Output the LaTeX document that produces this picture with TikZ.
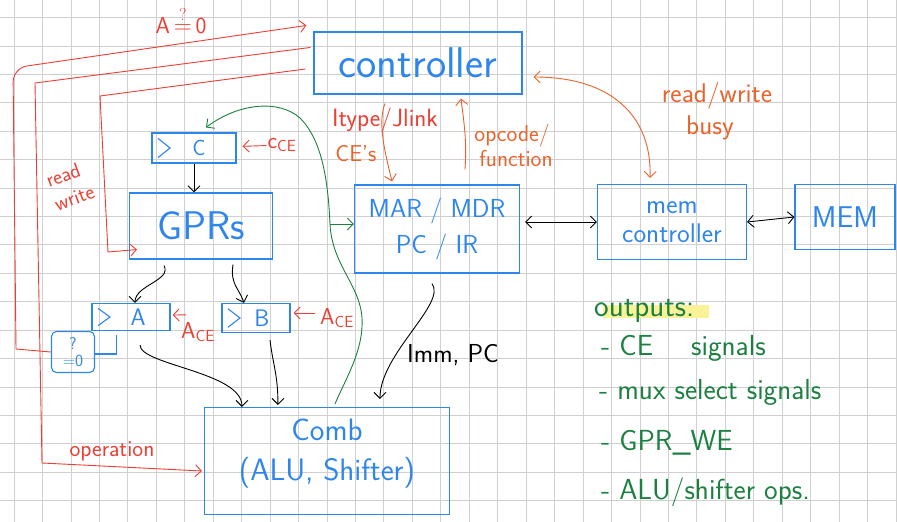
\documentclass[tikz,border=0pt]{standalone}
\usepackage{amsmath, amssymb}
\usepackage{tikz}
\usetikzlibrary{calc, arrows.meta}

\definecolor{penblue}{RGB}{46,134,236}
\definecolor{penred}{RGB}{236,62,50}
\definecolor{penorange}{RGB}{234,98,44}
\definecolor{pengreen}{RGB}{28,128,64}
\definecolor{gridgray}{RGB}{208,208,208}
\definecolor{hilite}{RGB}{250,242,150}

\newcommand{\sk}[2]{\fontsize{#1}{#2}\selectfont}

\begin{document}
\begin{tikzpicture}[x=1pt,y=1pt,yscale=-1, >={Straight Barb[length=6pt,width=12pt]},
  box/.style={draw=penblue, text=penblue, line width=1.1pt, inner sep=0pt, align=center, font=\sffamily},
  reg/.style={box, path picture={\draw[penblue, line width=1.1pt]
      ($(path picture bounding box.north west)!.18!(path picture bounding box.south west)+(6,0)$)
      -- ($(path picture bounding box.west)+(18,0)$)
      -- ($(path picture bounding box.south west)!.18!(path picture bounding box.north west)+(6,0)$);}},
  wire/.style={->, line width=0.9pt},
  redwire/.style={wire, draw=penred},
  orangewire/.style={wire, draw=penorange},
  greenwire/.style={wire, draw=pengreen},
  redtext/.style={text=penred, font=\sffamily\sk{23}{25}, inner sep=1pt},
  orangetext/.style={text=penorange, font=\sffamily\sk{23}{25}, inner sep=1pt},
  greentext/.style={text=pengreen, font=\sffamily\sk{29}{32}, inner sep=1pt, anchor=west}
]
\useasboundingbox (0,0) rectangle (897,522);
\fill[white] (0,0) rectangle (897,522);

%Grid paper
\foreach \i in {0,...,31} \draw[gridgray, line width=0.8pt] ({14+28.45*\i},0) -- ({14+28.45*\i},522);
\foreach \j in {0,...,17} \draw[gridgray, line width=0.8pt] (0,{17.5+28.42*\j}) -- (897,{17.5+28.42*\j});

%Shape: Rectangle [controller]
\node[box, minimum width=208pt, minimum height=62pt, font=\sffamily\sk{43}{46}] (ctrl) at (418,63) {controller};
%Shape: Rectangle [C register]
\node[reg, minimum width=84pt, minimum height=30pt, font=\sffamily\sk{22}{24}] (regC) at (194,148) {\hspace*{10pt}C};
%Shape: Rectangle [register file]
\node[box, minimum width=143pt, minimum height=66pt, font=\sffamily\sk{40}{42}] (gprs) at (201,226) {GPRs};
%Shape: Rectangle [A and B registers]
\node[reg, minimum width=78pt, minimum height=27pt, font=\sffamily\sk{24}{26}] (regA) at (131,317) {\hspace*{14pt}A};
\node[reg, minimum width=68pt, minimum height=29pt, font=\sffamily\sk{24}{26}] (regB) at (256,318) {\hspace*{12pt}B};
%Shape: Rectangle [zero test]
\node[box, rounded corners=5pt, minimum width=43pt, minimum height=41pt, font=\sffamily\sk{17}{17}] (zero) at (73,352) {?\\=0};
%Shape: Rectangle [MAR/MDR, PC/IR]
\node[box, minimum width=165pt, minimum height=88pt, font=\sffamily\sk{26}{36}] (marmdr) at (437,229) {MAR / MDR\\PC / IR};
%Shape: Rectangle [memory controller]
\node[box, minimum width=149pt, minimum height=75pt, font=\sffamily\sk{27}{29}] (memctrl) at (672,222) {mem\\controller};
%Shape: Rectangle [memory]
\node[box, minimum width=100pt, minimum height=65pt, font=\sffamily\sk{30}{32}] (mem) at (845,217) {MEM};
%Shape: Rectangle [combinational part]
\node[box, minimum width=245pt, minimum height=107pt, font=\sffamily\sk{31}{40}] (comb) at (327,461) {Comb\\(ALU, Shifter)\\[-18pt]\mbox{}};

%Straight Lines [C into GPRs]
\draw[wire] (regC.south) -- (regC.south |- gprs.north);
%Curve Lines [GPRs into A and B]
\draw[wire] ($(gprs.south)+(-37,6)$) .. controls +(8,15) and +(0,-18) .. ($(regA.north)+(4,0)$);
\draw[wire] ($(gprs.south)+(32,5)$) .. controls +(-3,20) and +(-5,-15) .. ($(regB.north)+(-12,0)$);
%Straight Lines [A to the zero test]
\draw[penblue, line width=1.1pt] ($(regA.south west)+(25,4)$) |- ($(zero.east)+(0,2)$);
%Curve Lines [operands into Comb]
\draw[wire] ($(regA.south)+(9,14)$) .. controls +(0,20) and +(0,-35) .. ($(comb.north west)+(38,0)$);
\draw[wire] ($(regB.south)+(14,7)$) .. controls +(3,25) and +(0,-30) .. ($(comb.north west)+(74,-2)$);
\draw[wire] ($(marmdr.south)+(-5,10)$) .. controls +(15,20) and +(0,-45) .. ($(comb.north west)+(176,-8)$);
\node[font=\sffamily\sk{26}{28}] (imm) at (453,355) {Imm, PC};

%Curve Lines [Comb result back to C and MAR]
\coordinate (tap) at (330,224);
\draw[greenwire] ($(comb.north)+(8,-3)$) .. controls (345,380) and (364,350) .. (362,318)
  .. controls (360,285) and (332,265) .. (tap) .. controls (328,180) and (322,140) .. (300,118)
  .. controls (280,100) and (240,102) .. ($(regC.north)+(12,-5)$);
\draw[greenwire] (tap) -- (tap -| marmdr.west);

%Straight Lines [controller signals, red]
\draw[redwire] (zero.west) -- (16,349) [rounded corners=14pt] -- (13,68) -- ($(ctrl.north west)+(-7,-6)$);
\node[redtext] (azero) at (181,20) {A\,$\overset{?}{=}$\,0};
\draw[redwire] ($(ctrl.north west)+(-3,16)$) -- (35,83) -- (42,463) -- ($(comb.west)+(-2,10)$);
\node[redtext] (op) at (112,451) {operation};
\draw[redwire] ($(ctrl.west)+(-8,6)$) -- (100,96) -- (108,252) -- ($(gprs.south west)+(8,-10)$);
\node[redtext, rotate=20, align=left, font=\sffamily\sk{21}{25}] (rw) at (70,186) {read\\write};

%Straight Lines [clock enables]
\node[redtext] (cce) at (282,145) {c\textsubscript{CE}};
\draw[redwire, shorten >=6pt] (cce) -- (regC);
\node[redtext] (ace) at (198,332) {A\textsubscript{CE}};
\draw[redwire, shorten >=2pt] ($(ace.north west)+(6,-6)$) -- ($(regA.east)+(0,-2)$);
\node[redtext] (bce) at (337,318) {A\textsubscript{CE}};
\draw[redwire, shorten >=3pt] ($(bce.west)+(-4,-5)$) -- ($(regB.east)+(0,-5)$);

%Curve Lines [controller and datapath, orange]
\draw[orangewire] ($(ctrl.south)+(-33,9)$) .. controls +(-8,20) and +(-6,-25) .. ($(marmdr.north)+(-45,-3)$);
\node[redtext, font=\sffamily\sk{25}{27}] (itype) at (385,120) {Itype/Jlink};
\node[orangetext] (ces) at (356,154) {CE's};
\draw[orangewire] ($(marmdr.north)+(28,-15)$) .. controls +(2,-30) and +(3,25) .. ($(ctrl.south)+(43,4)$);
\node[orangetext] (opc) at (512,136) {opcode/};
\node[orangetext] (func) at (516,159) {function};
\draw[orangewire, <->] ($(ctrl.east)+(11,14)$) .. controls +(80,0) and +(2,-60) .. ($(memctrl.north)+(-22,-6)$);
\node[orangetext, font=\sffamily\sk{27}{29}] (rwb) at (717,96) {read/write};
\node[orangetext, font=\sffamily\sk{27}{29}] (busy) at (710,128) {busy};

%Straight Lines [memory side]
\draw[wire, <->, shorten <=5pt] (marmdr.east |- memctrl.west) -- (memctrl.west);
\draw[wire, <->] (memctrl.east) -- (mem.west);

%Text [controller outputs]
\fill[hilite] (603,305) rectangle (709,318);
\node[greentext, font=\sffamily\sk{31}{33}] (outhead) at (593,311) {outputs:};
\node[greentext] (out1) at (600,348) {- CE\quad\ signals};
\node[greentext] (out2) at (598,392) {- mux select signals};
\node[greentext] (out3) at (600,443) {- GPR\_WE};
\node[greentext] (out4) at (600,492) {- ALU/shifter ops.};

\end{tikzpicture}
\end{document}
